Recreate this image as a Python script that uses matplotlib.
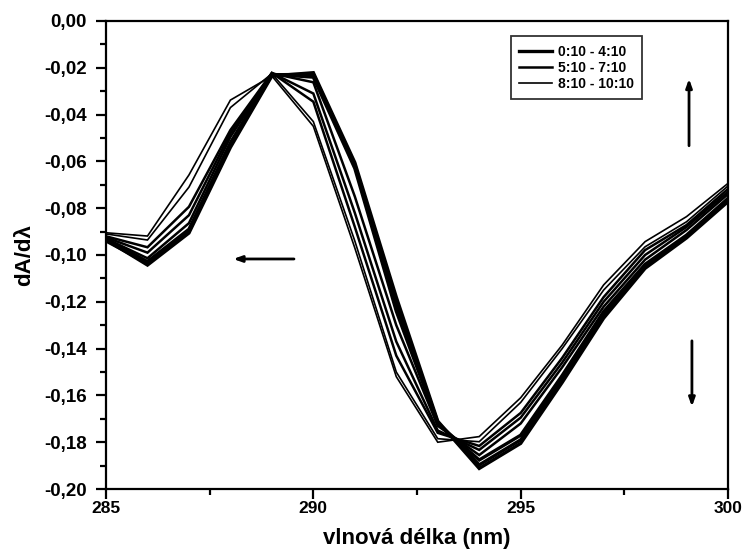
import matplotlib
matplotlib.use("Agg")
import matplotlib.pyplot as plt
from matplotlib.ticker import MultipleLocator, FuncFormatter

plt.rcParams["font.family"] = ["Liberation Sans", "DejaVu Sans"]
plt.rcParams["font.weight"] = "bold"

wavelength = [285, 286, 287, 288, 289, 290, 291, 292, 293, 294, 295, 296, 297, 298, 299, 300]

# 0:10 - 4:10 (thick)
a1 = [-0.0935, -0.1043, -0.0906, -0.0540, -0.0235, -0.0221, -0.0605, -0.1180, -0.1710,
      -0.1912, -0.1805, -0.1545, -0.1270, -0.1057, -0.0927, -0.0772]
a2 = [-0.0940, -0.1035, -0.0898, -0.0530, -0.0230, -0.0228, -0.0615, -0.1210, -0.1715,
      -0.1897, -0.1790, -0.1530, -0.1255, -0.1048, -0.0920, -0.0765]
a3 = [-0.0935, -0.1028, -0.0890, -0.0520, -0.0228, -0.0240, -0.0630, -0.1240, -0.1720,
      -0.1876, -0.1770, -0.1515, -0.1242, -0.1040, -0.0915, -0.0758]
# 5:10 - 7:10 (medium)
b1 = [-0.0930, -0.1014, -0.0864, -0.0495, -0.0224, -0.0262, -0.0750, -0.1300, -0.1730,
      -0.1855, -0.1720, -0.1480, -0.1221, -0.1020, -0.0893, -0.0740]
b2 = [-0.0925, -0.0990, -0.0830, -0.0480, -0.0222, -0.0310, -0.0820, -0.1370, -0.1750,
      -0.1833, -0.1695, -0.1460, -0.1200, -0.1000, -0.0880, -0.0730]
b3 = [-0.0920, -0.0967, -0.0794, -0.0466, -0.0222, -0.0345, -0.0880, -0.1430, -0.1760,
      -0.1816, -0.1675, -0.1440, -0.1180, -0.0979, -0.0872, -0.0718]
# 8:10 - 10:10 (thin)
c1 = [-0.0910, -0.0936, -0.0710, -0.0370, -0.0225, -0.0430, -0.0940, -0.1500, -0.1785,
      -0.1798, -0.1630, -0.1400, -0.1150, -0.0965, -0.0858, -0.0705]
c2 = [-0.0905, -0.0919, -0.0658, -0.0338, -0.0235, -0.0450, -0.0970, -0.1520, -0.1800,
      -0.1776, -0.1610, -0.1385, -0.1128, -0.0943, -0.0836, -0.0694]

groups = [
    ("0:10 - 4:10", [a1, a2, a3], 2.4),
    ("5:10 - 7:10", [b1, b2, b3], 1.8),
    ("8:10 - 10:10", [c1, c2], 1.2),
]

fig = plt.figure(figsize=(7.44, 5.52), dpi=100)
ax = fig.add_axes([0.1425, 0.1141, 0.836, 0.8479])

for label, series, lw in groups:
    for i, ys in enumerate(series):
        ax.plot(wavelength, ys, color="black", lw=lw,
                label=label if i == 0 else None, solid_joinstyle="miter")

ax.set_xlim(285, 300)
ax.set_ylim(-0.20, 0.0)
ax.xaxis.set_major_locator(MultipleLocator(5))
ax.xaxis.set_minor_locator(MultipleLocator(2.5))
ax.yaxis.set_major_locator(MultipleLocator(0.02))
ax.yaxis.set_minor_locator(MultipleLocator(0.01))
ax.yaxis.set_major_formatter(FuncFormatter(lambda v, p: f"{v:.2f}".replace(".", ",").replace("-0,00", "0,00")))

ax.tick_params(which="major", direction="out", length=7, width=1.6)
ax.tick_params(which="minor", direction="out", length=4, width=1.6)
ax.tick_params(axis="x", labelsize=12.5, pad=1.5)
ax.tick_params(axis="y", labelsize=13.5, pad=7)
ax.tick_params(top=False, right=False)
for side in ax.spines.values():
    side.set_linewidth(1.6)
for lab in ax.get_xticklabels() + ax.get_yticklabels():
    lab.set_fontweight("bold")

ax.set_xlabel("vlnová délka (nm)", fontsize=16, fontweight="bold", labelpad=9)
ax.set_ylabel("dA/dλ", fontsize=16, fontweight="bold", labelpad=6)

leg = ax.legend(loc="upper right", bbox_to_anchor=(0.862, 0.967), fontsize=10,
                frameon=True, fancybox=False, handlelength=2.4, handletextpad=0.4,
                borderpad=0.6, labelspacing=0.15, borderaxespad=0)
leg.get_frame().set_edgecolor("black")
leg.get_frame().set_linewidth(1.3)
for t in leg.get_texts():
    t.set_fontweight("bold")

arrow = dict(arrowstyle="-|>,head_length=0.5,head_width=0.18", color="black", lw=2)
ax.annotate("", xy=(288.0, -0.1017), xytext=(289.6, -0.1017), arrowprops=arrow)
ax.annotate("", xy=(299.06, -0.0235), xytext=(299.06, -0.0545), arrowprops=arrow)
ax.annotate("", xy=(299.13, -0.166), xytext=(299.13, -0.1355), arrowprops=arrow)

fig.savefig("out.png", dpi=100)
